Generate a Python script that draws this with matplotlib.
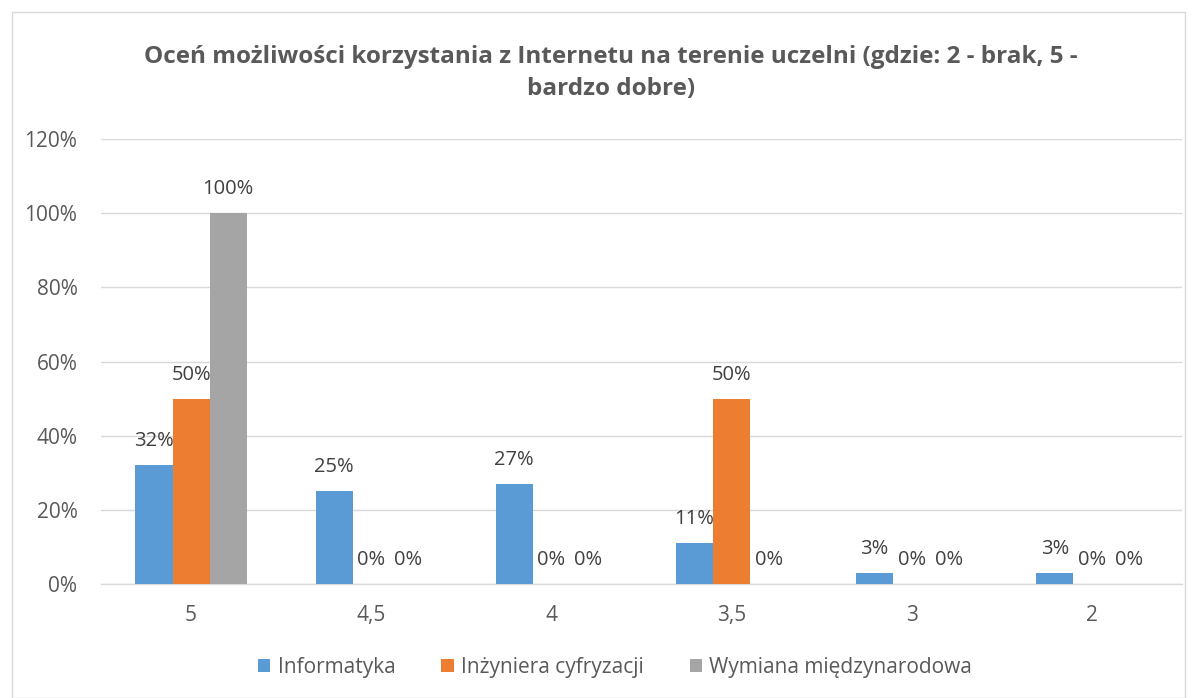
import matplotlib
matplotlib.use("Agg")
import matplotlib.pyplot as plt
from matplotlib.patches import Rectangle
import numpy as np

categories = ["5", "4,5", "4", "3,5", "3", "2"]
series_names = ["Informatyka", "Inżyniera cyfryzacji", "Wymiana międzynarodowa"]
informatyka = [32, 25, 27, 11, 3, 3]
inzyniera = [50, 0, 0, 50, 0, 0]
wymiana = [100, 0, 0, 0, 0, 0]
yticks = [0, 20, 40, 60, 80, 100, 120]
title = "Oceń możliwości korzystania z Internetu na terenie uczelni (gdzie: 2 - brak, 5 -\nbardzo dobre)"

colors = ["#5b9bd5", "#ed7d31", "#a5a5a5"]
txt = "#595959"
plt.rcParams['font.family'] = ['Open Sans', 'DejaVu Sans']

fig = plt.figure(figsize=(11.97, 6.98), dpi=100)
fig.patches.append(Rectangle((12/1197, 0), 1 - 24/1197, 1 - 12/698, transform=fig.transFigure,
                             fill=False, edgecolor="#d9d9d9", linewidth=1))
ax = fig.add_axes([101/1197, 1 - 584/698, 1081/1197, (584 - 139)/698])

x = np.arange(len(categories))
w = 0.206
for i, (vals, name) in enumerate(zip([informatyka, inzyniera, wymiana], series_names)):
    pos = x + (i - 1) * w
    ax.bar(pos, vals, width=w, color=colors[i], label=name, zorder=3)
    for p, v in zip(pos, vals):
        ax.annotate(f"{v}%", (p, v), xytext=(0, 24), textcoords="offset pixels",
                    ha="center", va="center", fontsize=14.5, color="#404040")

ax.set_xlim(-0.5, len(categories) - 0.5)
ax.set_ylim(0, 120)
ax.set_yticks(yticks)
ax.set_yticklabels([f"{t}%" for t in yticks])
ax.set_xticks(x)
ax.set_xticklabels(categories)
ax.tick_params(axis="both", length=0, labelsize=15, labelcolor=txt)
ax.tick_params(axis="y", pad=17)
ax.tick_params(axis="x", pad=15)
ax.grid(axis="y", color="#d9d9d9", linewidth=1, zorder=0)
for s in ["top", "right", "left"]:
    ax.spines[s].set_visible(False)
ax.spines["bottom"].set_color("#d9d9d9")
ax.spines["bottom"].set_linewidth(1)

fig.text(611/1197, 1 - 73/698, title, ha="center", va="center", fontsize=17.5, fontweight="bold",
         color=txt, linespacing=1.4)

leg = fig.legend(loc="center", bbox_to_anchor=(615/1197, 1 - 667/698), ncol=3, frameon=False,
                 fontsize=15, handlelength=0.6, handleheight=0.6, handletextpad=0.35,
                 columnspacing=2.2)
for t in leg.get_texts():
    t.set_color(txt)

fig.savefig("out.png", dpi=100)
